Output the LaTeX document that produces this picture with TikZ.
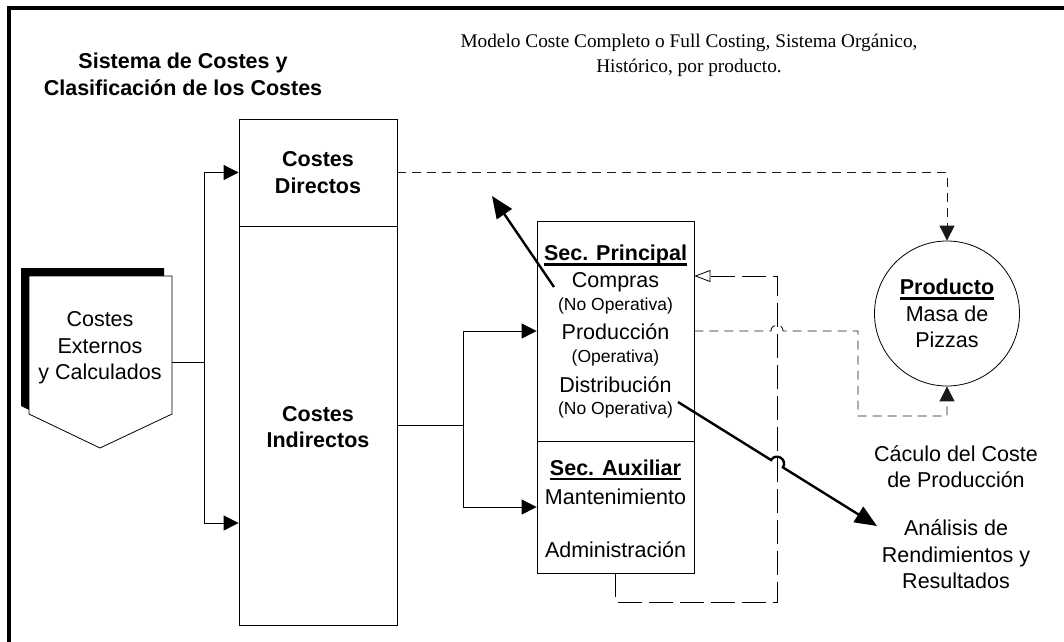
\documentclass[tikz,border=0pt]{standalone}
\usepackage{fontspec}
\setmainfont{Liberation Sans}
\newfontfamily\timesf{Liberation Serif}
\usetikzlibrary{arrows.meta}
\newcommand\ulx[1]{\setbox0\hbox{#1}\rlap{\vrule height -2.5pt depth 5pt width \wd0}\box0}
\begin{document}
\begin{tikzpicture}[x=1pt,y=-1pt,
  box/.style={draw, line width=0.8pt, inner sep=0pt},
  lbl/.style={font=\fontsize{21.5}{26.5}\selectfont, align=center, inner sep=0pt},
  blbl/.style={font=\fontsize{21.5}{26.5}\selectfont\bfseries, align=center, inner sep=0pt},
  ln/.style={font=\fontsize{21.5}{26.5}\selectfont, anchor=base, inner sep=0pt},
  sm/.style={font=\fontsize{17.5}{20}\selectfont, anchor=base, inner sep=0pt},
  wire/.style={line width=0.8pt},
  conn/.style={line width=0.8pt, -{Triangle[length=15pt,width=15pt]}},
  dconn/.style={line width=0.9pt, draw=black!90, dash pattern=on 9pt off 6pt},
  heavy/.style={line width=2.4pt, -{Triangle[length=22pt,width=18pt]}},
  fb/.style={line width=0.8pt, dash pattern=on 24pt off 7pt}
]
\useasboundingbox (0,0) rectangle (1064,641);
% frame
\draw[line width=3.6pt] (9,650) -- (9,8) -- (1070,8);

% titles
\node[blbl] (title) at (183,74.5) {Sistema de Costes y\\Clasificación de los Costes};
\node[font=\timesf\fontsize{19.3}{25}\selectfont, align=center, inner sep=0pt] (model) at (689,55) {Modelo Coste Completo o Full Costing, Sistema Orgánico,\\Histórico, por producto.};

% external costs shape with shadow
\fill[black] (21,268) -- (164,268) -- (164,406) -- (92,440) -- (21,406) -- cycle;
\draw[line width=0.8pt, fill=white] (29,276) -- (172,276) -- (172,414) -- (100,448) -- (29,414) -- cycle;
\node[lbl] (ext) at (100,348) {Costes\\Externos\\y Calculados};
\coordinate (extR) at (172,362);
\coordinate (j1) at (204,362);

% cost boxes
\node[box, blbl, minimum width=158pt, minimum height=107pt] (dir) at (318,172.5) {Costes\\Directos};
\node[box, minimum width=158pt, minimum height=399pt] (ind) at (318,425.5) {};
\node[blbl] (indt) at (318,427) {Costes\\Indirectos};

% sections
\node[box, minimum width=157pt, minimum height=220pt] (sp) at (615.5,331) {};
\node[box, minimum width=157pt, minimum height=132pt] (sa) at (615.5,507) {};
\node[ln, font=\fontsize{21.5}{26.5}\selectfont\bfseries] (t1) at (615.5,260.5) {\ulx{Sec. Principal}};
\node[ln] (t2) at (615.5,287) {Compras};
\node[sm] (t3) at (615.5,310.5) {(No Operativa)};
\node[ln] (t4) at (615.5,339) {Producción};
\node[sm] (t5) at (615.5,362.5) {(Operativa)};
\node[ln] (t6) at (615.5,392) {Distribución};
\node[sm] (t7) at (615.5,414.5) {(No Operativa)};
\node[ln, font=\fontsize{21.5}{26.5}\selectfont\bfseries] (t8) at (615.5,475) {\ulx{Sec. Auxiliar}};
\node[ln] (t9) at (615.5,504) {Mantenimiento};
\node[ln] (t10) at (615.5,557) {Administración};

% product
\node[draw, circle, line width=0.8pt, minimum size=145pt, inner sep=0pt, lbl] (prod) at (947,313.5) {{\bfseries\ulx{Producto}}\\Masa de\\Pizzas};

% right texts
\node[lbl] (calc) at (956,466.5) {Cáculo del Coste\\de Producción};
\node[lbl] (anal) at (956,554.5) {Análisis de\\Rendimientos y\\Resultados};

% solid connectors
\draw[wire] (extR) -- (j1);
\draw[conn] (j1) |- (dir.west);
\draw[conn] (j1) |- (ind.west |- 0,523);
\coordinate (j2) at (463,425.5);
\draw[wire] (ind.east) -- (j2);
\draw[conn] (j2) |- (sp.west);
\draw[conn] (j2) |- (sa.west);

% dashed connectors to product
\draw[dconn, -{Triangle[length=15pt,width=15pt]}] (dir.east) -| (prod.north);
\coordinate (h1) at (771,331);
\coordinate (h2) at (783,331);
\coordinate (k1) at (858,331);
\coordinate (k2) at (858,416);
\coordinate (k3) at (947,416);
\draw[dconn, -{Triangle[length=15pt,width=15pt]}] (sp.east) -- (h1) .. controls (771,323) and (783,323) .. (h2) -- (k1) -- (k2) -- (k3) -- (prod.south);

% feedback loop
\coordinate (f1) at (615.5,602);
\coordinate (f2) at (777,602);
\coordinate (f3) at (777,276);
\draw[fb, -{Triangle[open,length=16pt,width=12pt]}] (sa.south) -- (f1) -- (f2) -- (f3) -- (sp.east |- f3);

% heavy arrows
\coordinate (c1) at (554,287);
\coordinate (c2) at (492,196);
\draw[heavy] (c1) -- (c2);
\coordinate (d1) at (678,402);
\coordinate (dh1) at (771.06,460.0);
\coordinate (dh2) at (782.94,467.4);
\coordinate (d2) at (877,526);
\draw[heavy] (d1) -- (dh1) .. controls (776.0,452.1) and (787.9,459.5) .. (dh2) -- (d2);
\end{tikzpicture}
\end{document}
